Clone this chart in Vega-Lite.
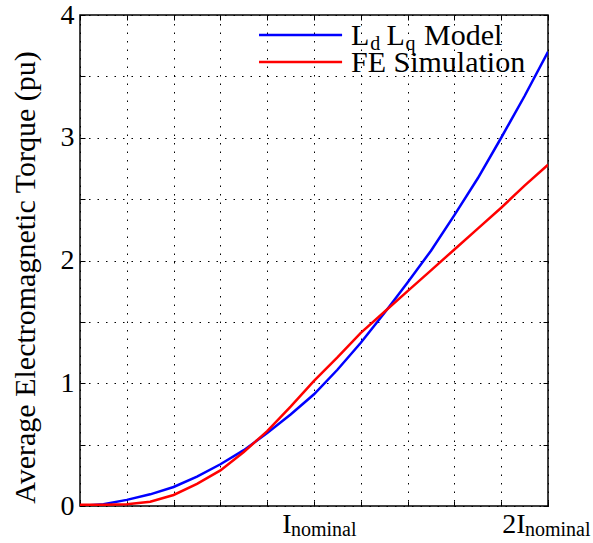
{
  "$schema": "https://vega.github.io/schema/vega-lite/v6.json",
  "width": 468,
  "height": 491,
  "autosize": {"type": "none"},
  "padding": {"left": 80, "top": 15, "right": 45, "bottom": 37},
  "background": "white",
  "config": {
    "view": {"stroke": "black", "strokeWidth": 1.5},
    "font": "Liberation Serif"
  },
  "datasets": {
    "curves": [
      {"series": "Ld Lq Model", "current": 0.0, "torque": 0.0},
      {"series": "Ld Lq Model", "current": 0.1, "torque": 0.015},
      {"series": "Ld Lq Model", "current": 0.2, "torque": 0.05},
      {"series": "Ld Lq Model", "current": 0.3, "torque": 0.095},
      {"series": "Ld Lq Model", "current": 0.4, "torque": 0.155},
      {"series": "Ld Lq Model", "current": 0.5, "torque": 0.24},
      {"series": "Ld Lq Model", "current": 0.6, "torque": 0.34},
      {"series": "Ld Lq Model", "current": 0.7, "torque": 0.455},
      {"series": "Ld Lq Model", "current": 0.8, "torque": 0.595},
      {"series": "Ld Lq Model", "current": 0.9, "torque": 0.745},
      {"series": "Ld Lq Model", "current": 1.0, "torque": 0.91},
      {"series": "Ld Lq Model", "current": 1.1, "torque": 1.11},
      {"series": "Ld Lq Model", "current": 1.2, "torque": 1.33},
      {"series": "Ld Lq Model", "current": 1.3, "torque": 1.57},
      {"series": "Ld Lq Model", "current": 1.4, "torque": 1.82},
      {"series": "Ld Lq Model", "current": 1.5, "torque": 2.08},
      {"series": "Ld Lq Model", "current": 1.6, "torque": 2.37},
      {"series": "Ld Lq Model", "current": 1.7, "torque": 2.67},
      {"series": "Ld Lq Model", "current": 1.8, "torque": 3.0},
      {"series": "Ld Lq Model", "current": 1.9, "torque": 3.34},
      {"series": "Ld Lq Model", "current": 2.0, "torque": 3.7},
      {"series": "FE Simulation", "current": 0.0, "torque": 0.01},
      {"series": "FE Simulation", "current": 0.1, "torque": 0.01},
      {"series": "FE Simulation", "current": 0.2, "torque": 0.015},
      {"series": "FE Simulation", "current": 0.3, "torque": 0.035},
      {"series": "FE Simulation", "current": 0.4, "torque": 0.09},
      {"series": "FE Simulation", "current": 0.5, "torque": 0.18},
      {"series": "FE Simulation", "current": 0.6, "torque": 0.29},
      {"series": "FE Simulation", "current": 0.7, "torque": 0.44},
      {"series": "FE Simulation", "current": 0.8, "torque": 0.61},
      {"series": "FE Simulation", "current": 0.9, "torque": 0.81},
      {"series": "FE Simulation", "current": 1.0, "torque": 1.02},
      {"series": "FE Simulation", "current": 1.1, "torque": 1.21},
      {"series": "FE Simulation", "current": 1.2, "torque": 1.41},
      {"series": "FE Simulation", "current": 1.3, "torque": 1.58},
      {"series": "FE Simulation", "current": 1.4, "torque": 1.75},
      {"series": "FE Simulation", "current": 1.5, "torque": 1.92},
      {"series": "FE Simulation", "current": 1.6, "torque": 2.09},
      {"series": "FE Simulation", "current": 1.7, "torque": 2.26},
      {"series": "FE Simulation", "current": 1.8, "torque": 2.43},
      {"series": "FE Simulation", "current": 1.9, "torque": 2.61},
      {"series": "FE Simulation", "current": 2.0, "torque": 2.78}
    ],
    "xsub": [
      {"current": 1, "sub": "nominal"},
      {"current": 2, "sub": "nominal"}
    ],
    "one": [{}]
  },
  "resolve": {"axis": {"x": "independent", "y": "independent"}},
  "layer": [
    {
      "data": {"name": "curves"},
      "transform": [{"filter": "datum.series == 'Ld Lq Model'"}],
      "mark": {"type": "line", "strokeWidth": 2.5, "color": "#0000ff", "clip": true},
      "encoding": {
        "x": {
          "field": "current", "type": "quantitative",
          "scale": {"domain": [0, 2], "nice": false, "zero": false},
          "axis": {
            "orient": "bottom",
            "values": [0, 0.2, 0.4, 0.6, 0.8, 1, 1.2, 1.4, 1.6, 1.8, 2],
            "labelExpr": "datum.value == 1 ? 'I' : (datum.value == 2 ? '2I' : '')",
            "title": null,
            "grid": true, "gridColor": "black", "gridDash": [1.5, 7], "gridWidth": 1, "gridOpacity": 1,
            "domain": false,
            "ticks": true, "tickSize": -5, "tickColor": "black", "tickWidth": 1,
            "labelFont": "Liberation Serif", "labelFontSize": 28, "labelColor": "black",
            "labelAlign": "right", "labelOffset": -23, "labelBaseline": "alphabetic",
            "labelPadding": 31, "labelFlush": false, "labelOverlap": false
          }
        },
        "y": {
          "field": "torque", "type": "quantitative",
          "scale": {"domain": [0, 4], "nice": false},
          "axis": {
            "orient": "left",
            "values": [0, 0.5, 1, 1.5, 2, 2.5, 3, 3.5, 4],
            "labelExpr": "datum.value % 1 == 0 ? format(datum.value, 'd') : ''",
            "title": "Average Electromagnetic Torque (pu)",
            "titleFont": "Liberation Serif", "titleFontSize": 30, "titleFontWeight": "normal",
            "titleColor": "black", "titleAngle": -90, "titleX": -46, "titleY": 262,
            "titleBaseline": "alphabetic", "titleAlign": "center",
            "grid": true, "gridColor": "black", "gridDash": [1.5, 7], "gridWidth": 1, "gridOpacity": 1,
            "domain": false,
            "ticks": true, "tickSize": -5, "tickColor": "black", "tickWidth": 1,
            "labelFont": "Liberation Serif", "labelFontSize": 28, "labelColor": "black",
            "labelPadding": 11, "labelBaseline": "middle", "labelFlush": false, "labelOverlap": false
          }
        }
      }
    },
    {
      "data": {"name": "curves"},
      "transform": [{"filter": "datum.series == 'FE Simulation'"}],
      "mark": {"type": "line", "strokeWidth": 2.5, "color": "#ff0000", "clip": true},
      "encoding": {
        "x": {
          "field": "current", "type": "quantitative",
          "axis": {
            "orient": "top",
            "values": [0, 0.2, 0.4, 0.6, 0.8, 1, 1.2, 1.4, 1.6, 1.8, 2],
            "labels": false, "title": null, "grid": false, "domain": false,
            "ticks": true, "tickSize": -5, "tickColor": "black", "tickWidth": 1
          }
        },
        "y": {
          "field": "torque", "type": "quantitative",
          "axis": {
            "orient": "right",
            "values": [0, 0.5, 1, 1.5, 2, 2.5, 3, 3.5, 4],
            "labels": false, "title": null, "grid": false, "domain": false,
            "ticks": true, "tickSize": -5, "tickColor": "black", "tickWidth": 1
          }
        }
      }
    },
    {
      "data": {"name": "xsub"},
      "mark": {"type": "text", "align": "left", "baseline": "alphabetic", "dx": -23, "dy": 30, "fontSize": 20, "font": "Liberation Serif", "color": "black"},
      "encoding": {
        "x": {"field": "current", "type": "quantitative", "axis": null},
        "y": {"datum": 0, "axis": null},
        "text": {"field": "sub"}
      }
    },
    {
      "data": {"name": "one"},
      "mark": {"type": "rule", "color": "#0000ff", "strokeWidth": 2.5},
      "encoding": {"x": {"datum": 0.765, "axis": null}, "x2": {"datum": 1.12}, "y": {"datum": 3.837, "axis": null}}
    },
    {
      "data": {"name": "one"},
      "mark": {"type": "rule", "color": "#ff0000", "strokeWidth": 2.5},
      "encoding": {"x": {"datum": 0.765, "axis": null}, "x2": {"datum": 1.12}, "y": {"datum": 3.617, "axis": null}}
    },
    {
      "data": {"name": "one"},
      "mark": {"type": "text", "text": "L", "align": "left", "baseline": "alphabetic", "dy": 10, "fontSize": 30, "font": "Liberation Serif", "color": "black"},
      "encoding": {"x": {"datum": 1.158, "axis": null}, "y": {"datum": 3.837, "axis": null}}
    },
    {
      "data": {"name": "one"},
      "mark": {"type": "text", "text": "d", "align": "left", "baseline": "alphabetic", "dy": 15, "fontSize": 20, "font": "Liberation Serif", "color": "black"},
      "encoding": {"x": {"datum": 1.24, "axis": null}, "y": {"datum": 3.837, "axis": null}}
    },
    {
      "data": {"name": "one"},
      "mark": {"type": "text", "text": "L", "align": "left", "baseline": "alphabetic", "dy": 10, "fontSize": 30, "font": "Liberation Serif", "color": "black"},
      "encoding": {"x": {"datum": 1.31, "axis": null}, "y": {"datum": 3.837, "axis": null}}
    },
    {
      "data": {"name": "one"},
      "mark": {"type": "text", "text": "q", "align": "left", "baseline": "alphabetic", "dy": 15, "fontSize": 20, "font": "Liberation Serif", "color": "black"},
      "encoding": {"x": {"datum": 1.391, "axis": null}, "y": {"datum": 3.837, "axis": null}}
    },
    {
      "data": {"name": "one"},
      "mark": {"type": "text", "text": "Model", "align": "left", "baseline": "alphabetic", "dy": 10, "fontSize": 30, "font": "Liberation Serif", "color": "black"},
      "encoding": {"x": {"datum": 1.47, "axis": null}, "y": {"datum": 3.837, "axis": null}}
    },
    {
      "data": {"name": "one"},
      "mark": {"type": "text", "text": "FE Simulation", "align": "left", "baseline": "alphabetic", "dy": 10, "fontSize": 30, "font": "Liberation Serif", "color": "black"},
      "encoding": {"x": {"datum": 1.158, "axis": null}, "y": {"datum": 3.617, "axis": null}}
    }
  ]
}
